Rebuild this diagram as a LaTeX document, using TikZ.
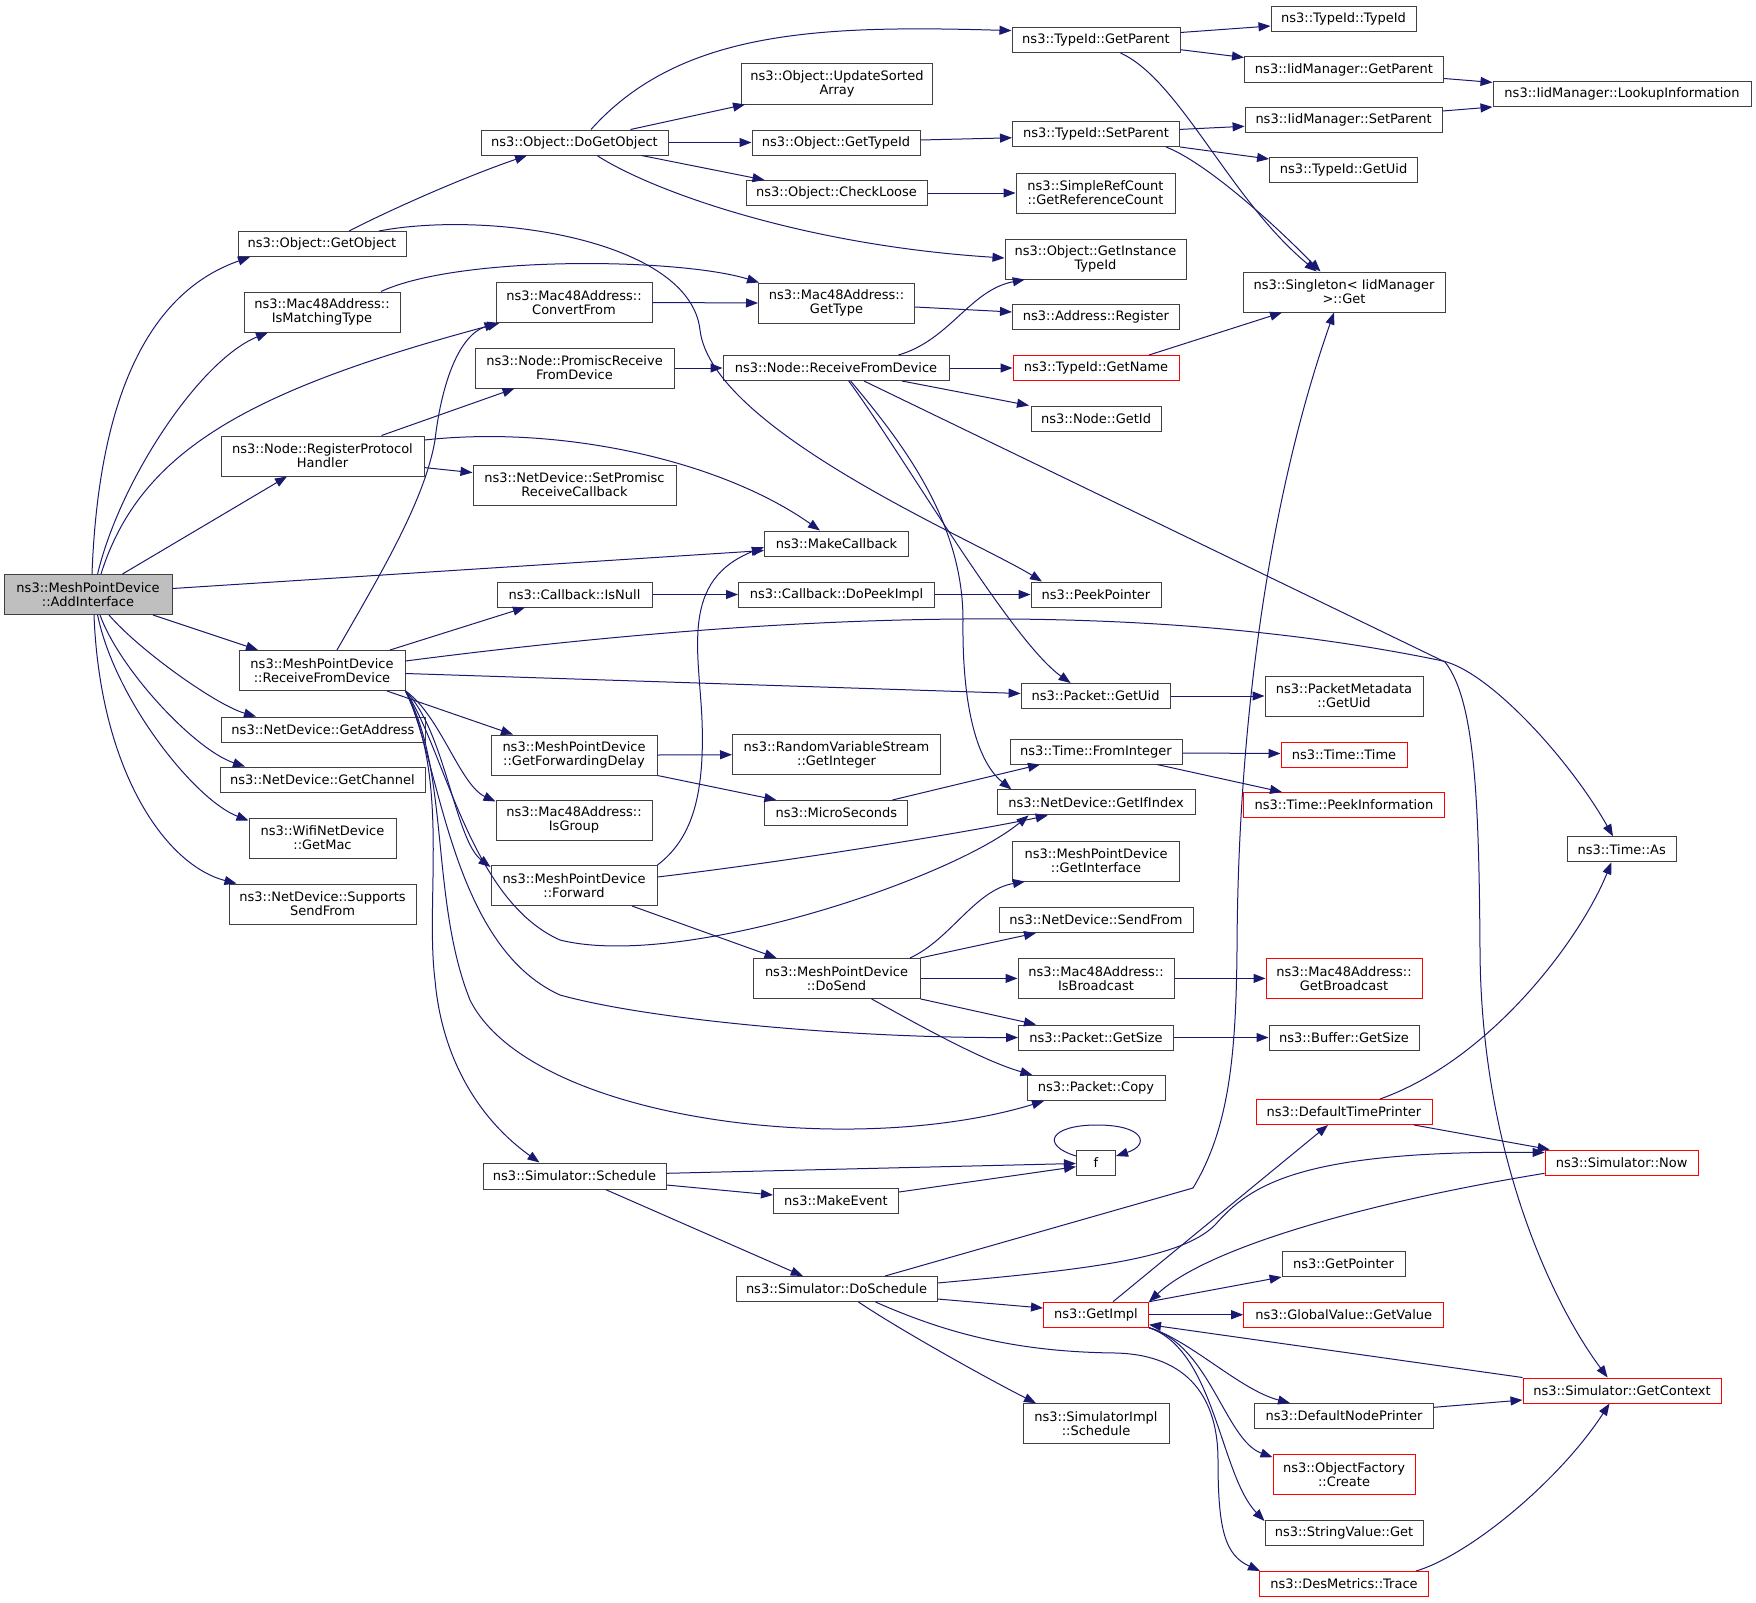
\documentclass[tikz,border=0pt]{standalone}
\usepackage{fontspec}
\setmainfont{DejaVu Sans}
\usetikzlibrary{arrows.meta}
\definecolor{edgeblue}{HTML}{191970}
\definecolor{boxgray}{HTML}{404040}
\definecolor{rootgray}{HTML}{BFBFBF}

\begin{document}
\begin{tikzpicture}[
    x=1pt, y=-1pt,
    >={Triangle[length=12pt,width=9pt]},
    fn/.style={
        rectangle,
        draw=boxgray,
        fill=white,
        line width=1pt,
        inner sep=0pt,
        minimum height=25pt,
        align=center,
        font=\fontsize{13}{14.2}\selectfont
    },
    fn2/.style={fn, minimum height=40pt},
    trunc/.style={draw=red},
    root/.style={fill=rootgray},
    call/.style={->, draw=edgeblue, line width=1pt}
]

\useasboundingbox (0,0) rectangle (1756,1603);

% --- ROOT ---
\node[fn2, root, minimum width=168pt] (addiface) at (88,594.5) {ns3::MeshPointDevice\\::AddInterface};

% --- COLUMN 1 ---
\node[fn, minimum width=168pt] (getobject) at (322,244) {ns3::Object::GetObject};
\node[fn2, minimum width=156pt] (ismatching) at (322,312) {ns3::Mac48Address::\\IsMatchingType};
\node[fn2, minimum width=203pt] (regproto) at (322.5,456) {ns3::Node::RegisterProtocol\\Handler};
\node[fn2, minimum width=166pt] (mrecv) at (322,670.5) {ns3::MeshPointDevice\\::ReceiveFromDevice};
\node[fn, minimum width=204pt] (getaddress) at (323,729.5) {ns3::NetDevice::GetAddress};
\node[fn, minimum width=205pt] (getchannel) at (322.5,779.5) {ns3::NetDevice::GetChannel};
\node[fn2, minimum width=147pt] (getmac) at (322.5,838) {ns3::WifiNetDevice\\::GetMac};
\node[fn2, minimum width=187pt] (supports) at (322.5,904) {ns3::NetDevice::Supports\\SendFrom};

% --- COLUMN 2 ---
\node[fn, minimum width=187pt] (dogetobj) at (574.5,142.5) {ns3::Object::DoGetObject};
\node[fn2, minimum width=156pt] (convfrom) at (574,302.5) {ns3::Mac48Address::\\ConvertFrom};
\node[fn2, minimum width=199pt] (promisc) at (574.5,368) {ns3::Node::PromiscReceive\\FromDevice};
\node[fn2, minimum width=203pt] (setpromisc) at (574.5,485) {ns3::NetDevice::SetPromisc\\ReceiveCallback};
\node[fn, minimum width=155pt] (isnull) at (574.5,594.5) {ns3::Callback::IsNull};
\node[fn2, minimum width=166pt] (fwddelay) at (574,755) {ns3::MeshPointDevice\\::GetForwardingDelay};
\node[fn2, minimum width=156pt] (isgroup) at (574,820) {ns3::Mac48Address::\\IsGroup};
\node[fn2, minimum width=166pt] (forward) at (574,885.5) {ns3::MeshPointDevice\\::Forward};
\node[fn, minimum width=183pt, minimum height=26pt] (schedule) at (574.5,1176) {ns3::Simulator::Schedule};

% --- COLUMN 3 ---
\node[fn2, minimum width=191pt] (sorted) at (837,84) {ns3::Object::UpdateSorted\\Array};
\node[fn, minimum width=168pt] (gettypeid) at (836,142.5) {ns3::Object::GetTypeId};
\node[fn, minimum width=181pt] (checkloose) at (836.5,193) {ns3::Object::CheckLoose};
\node[fn2, minimum width=156pt] (gettype) at (836.5,303) {ns3::Mac48Address::\\GetType};
\node[fn, minimum width=226pt] (nrecv) at (836,368) {ns3::Node::ReceiveFromDevice};
\node[fn, minimum width=144pt] (makecb) at (836.5,543.5) {ns3::MakeCallback};
\node[fn, minimum width=196pt] (dopeek) at (836.5,594.5) {ns3::Callback::DoPeekImpl};
\node[fn2, minimum width=208pt] (rvsint) at (836.5,754.7) {ns3::RandomVariableStream\\::GetInteger};
\node[fn, minimum width=143pt] (micro) at (836.4,813) {ns3::MicroSeconds};
\node[fn2, minimum width=167pt] (dosend) at (836.5,978.4) {ns3::MeshPointDevice\\::DoSend};
\node[fn, minimum width=125pt] (makeevent) at (836,1201) {ns3::MakeEvent};
\node[fn, minimum width=201pt] (doschedule) at (836.5,1289) {ns3::Simulator::DoSchedule};

% --- COLUMN 4 ---
\node[fn, minimum width=168pt] (tgetparent) at (1096,40) {ns3::TypeId::GetParent};
\node[fn, minimum width=167pt] (tsetparent) at (1096,134) {ns3::TypeId::SetParent};
\node[fn2, minimum width=159pt] (refcount) at (1095.5,193) {ns3::SimpleRefCount\\::GetReferenceCount};
\node[fn2, minimum width=181pt] (insttypeid) at (1095.5,259) {ns3::Object::GetInstance\\TypeId};
\node[fn, minimum width=167pt] (addrreg) at (1096,317) {ns3::Address::Register};
\node[fn, trunc, minimum width=166pt] (getname) at (1096,368) {ns3::TypeId::GetName};
\node[fn, minimum width=130pt] (getid) at (1096,418.5) {ns3::Node::GetId};
\node[fn, minimum width=130pt] (peekptr) at (1096,594.5) {ns3::PeekPointer};
\node[fn, minimum width=149pt] (pgetuid) at (1095.6,696) {ns3::Packet::GetUid};
\node[fn, minimum width=172pt] (frominteger) at (1096,751.5) {ns3::Time::FromInteger};
\node[fn, minimum width=198pt] (getifindex) at (1096,802.4) {ns3::NetDevice::GetIfIndex};
\node[fn2, minimum width=167pt] (getiface) at (1096,861) {ns3::MeshPointDevice\\::GetInterface};
\node[fn, minimum width=194pt] (sendfrom) at (1096,920) {ns3::NetDevice::SendFrom};
\node[fn2, minimum width=156pt] (isbcast) at (1096,978.4) {ns3::Mac48Address::\\IsBroadcast};
\node[fn, minimum width=155pt] (getsize) at (1096,1037.5) {ns3::Packet::GetSize};
\node[fn, minimum width=138pt] (copy) at (1096,1088) {ns3::Packet::Copy};
\node[fn, minimum width=39pt] (f) at (1096,1162.5) {f};
\node[fn, trunc, minimum width=105pt] (getimpl) at (1096,1314.7) {ns3::GetImpl};
\node[fn2, minimum width=146pt] (simimpl) at (1096,1423.7) {ns3::SimulatorImpl\\::Schedule};

% --- COLUMN 5 ---
\node[fn, minimum width=145pt] (typeid) at (1343.5,19) {ns3::TypeId::TypeId};
\node[fn, minimum width=199pt] (igetparent) at (1344,69.5) {ns3::IidManager::GetParent};
\node[fn, minimum width=197pt] (isetparent) at (1343.6,120) {ns3::IidManager::SetParent};
\node[fn, minimum width=148pt] (tgetuid) at (1343.6,170) {ns3::TypeId::GetUid};
\node[fn2, minimum width=202pt] (singleton) at (1344,292) {ns3::Singleton< IidManager\\>::Get};
\node[fn2, minimum width=158pt] (pmgetuid) at (1344,696) {ns3::PacketMetadata\\::GetUid};
\node[fn, trunc, minimum width=126pt] (timetime) at (1344,754.5) {ns3::Time::Time};
\node[fn, trunc, minimum width=201pt] (peekinfo) at (1344,805) {ns3::Time::PeekInformation};
\node[fn2, trunc, minimum width=156pt] (getbcast) at (1344,978.4) {ns3::Mac48Address::\\GetBroadcast};
\node[fn, minimum width=150pt] (bufsize) at (1344,1037.5) {ns3::Buffer::GetSize};
\node[fn, trunc, minimum width=176pt] (dtp) at (1344,1112) {ns3::DefaultTimePrinter};
\node[fn, minimum width=123pt] (getptr) at (1343.6,1264) {ns3::GetPointer};
\node[fn, trunc, minimum width=200pt] (getvalue) at (1343.7,1314.7) {ns3::GlobalValue::GetValue};
\node[fn, minimum width=179pt] (dnp) at (1344,1416) {ns3::DefaultNodePrinter};
\node[fn2, trunc, minimum width=142pt] (objfact) at (1344,1474.7) {ns3::ObjectFactory\\::Create};
\node[fn, minimum width=158pt] (strget) at (1344,1533) {ns3::StringValue::Get};
\node[fn, trunc, minimum width=169pt] (trace) at (1344,1584) {ns3::DesMetrics::Trace};

% --- COLUMN 6 ---
\node[fn, minimum width=258pt] (lookup) at (1622,94.4) {ns3::IidManager::LookupInformation};
\node[fn, minimum width=109pt] (timeas) at (1621.7,849.3) {ns3::Time::As};
\node[fn, trunc, minimum width=153pt] (now) at (1621.6,1162.5) {ns3::Simulator::Now};
\node[fn, trunc, minimum width=198pt] (getctx) at (1622,1390.5) {ns3::Simulator::GetContext};

% --- CALLS FROM AddInterface ---
\draw[call] ([xshift=4pt]addiface.north) .. controls (100,360) and (170,285) .. ([xshift=-72pt]getobject.south);
\draw[call] ([xshift=9.6pt]addiface.north) .. controls (120,480) and (200,360) .. ([xshift=-54pt]ismatching.south);
\draw[call] ([xshift=13pt]addiface.north) .. controls (140,450) and (250,390) .. ([xshift=4pt]convfrom.south west);
\draw[call] ([xshift=34.5pt]addiface.north) -- ([xshift=-35.5pt]regproto.south);
\draw[call] ([yshift=6pt]addiface.east) -- ([yshift=-7pt]makecb.west);
\draw[call] ([xshift=65pt]addiface.south) -- ([xshift=-64pt]mrecv.north);
\draw[call] ([xshift=21pt]addiface.south) .. controls (139,650) and (216,705) .. ([xshift=-67pt]getaddress.north);
\draw[call] ([xshift=12pt]addiface.south) .. controls (120,670) and (195,750) .. ([xshift=-77.5pt]getchannel.north);
\draw[call] ([xshift=9.6pt]addiface.south) .. controls (115,700) and (195,800) .. ([yshift=-3pt]getmac.north west);
\draw[call] ([xshift=6pt]addiface.south) .. controls (100,770) and (165,865) .. ([xshift=8pt]supports.north west);

% --- OBJECT ---
\draw[call] ([xshift=27pt]getobject.north) .. controls (400,205) and (470,175) .. ([xshift=-47.5pt]dogetobj.south);
\draw[call] ([xshift=57pt]getobject.north) .. controls (490,210) and (690,240) .. (700,330) .. controls (712,430) and (975,540) .. ([xshift=-54pt]peekptr.north);
\draw[call] ([xshift=59pt]ismatching.north) .. controls (460,255) and (680,258) .. ([xshift=1pt]gettype.north west);
\draw[call] ([xshift=16.5pt]dogetobj.north) .. controls (680,30) and (820,25) .. ([yshift=9.4pt]tgetparent.west);
\draw[call] ([xshift=56pt]dogetobj.north) -- ([xshift=4pt]sorted.south west);
\draw[call] (dogetobj.east) -- (gettypeid.west);
\draw[call] ([xshift=67pt]dogetobj.south) -- ([xshift=-72pt]checkloose.north);
\draw[call] ([xshift=22.5pt]dogetobj.south) .. controls (650,190) and (800,245) .. ([yshift=1pt]insttypeid.west);
\draw[call] (convfrom.east) -- (gettype.west);
\draw[call] ([yshift=-4pt]gettype.east) -- ([yshift=5pt]addrreg.west);

% --- NODE ---
\draw[call] (promisc.east) -- (nrecv.west);
\draw[call] ([xshift=59pt]regproto.north) -- ([xshift=-60pt]promisc.south);
\draw[call] ([yshift=-11.6pt]regproto.east) -- ([yshift=12.4pt]setpromisc.west);
\draw[call] ([yshift=16pt]regproto.east) .. controls (560,425) and (720,460) .. ([xshift=-16.5pt]makecb.north);
\draw[call] ([xshift=62.5pt]nrecv.north) .. controls (950,340) and (970,290) .. ([xshift=-70.7pt]insttypeid.south);
\draw[call] (nrecv.east) -- (getname.west);
\draw[call] ([xshift=66pt]nrecv.south) -- ([xshift=-67pt]getid.north);
\draw[call] ([xshift=12.7pt]nrecv.south) .. controls (900,450) and (1010,640) .. ([xshift=-25pt]pgetuid.north);
\draw[call] ([xshift=14.6pt]nrecv.south) .. controls (900,440) and (963,520) .. (963,620) .. controls (962,700) and (975,760) .. ([xshift=-84.6pt]getifindex.north);
\draw[call] ([xshift=28pt]nrecv.south) -- (1445,662) .. controls (1475,700) and (1479,800) .. (1480,950) .. controls (1481,1150) and (1550,1300) .. ([xshift=-14.4pt]getctx.north);

% --- MESH POINT DEVICE ---
\draw[call] ([yshift=9.5pt]mrecv.east) .. controls (800,610) and (1150,600) .. (1443,661) .. controls (1490,672) and (1570,760) .. ([xshift=-8.7pt]timeas.north);
\draw[call] ([xshift=15pt]mrecv.north) .. controls (380,575) and (425,500) .. (435,440) .. controls (442,380) and (460,335) .. ([xshift=1pt]convfrom.south west);
\draw[call] ([xshift=68pt]mrecv.north) -- ([xshift=-49.5pt]isnull.south);
\draw[call] ([yshift=-3pt]mrecv.east) -- ([yshift=2.5pt]pgetuid.west);
\draw[call] ([xshift=65pt]mrecv.south) -- ([xshift=-61pt]fwddelay.north);
\draw[call] (mrecv.south east) .. controls (440,715) and (460,785) .. ([yshift=-2pt]isgroup.north west);
\draw[call] (mrecv.south east) .. controls (445,730) and (455,840) .. ([yshift=-2pt]forward.north west);
\draw[call] (mrecv.south east) .. controls (445,750) and (470,900) .. (560,940) .. controls (680,970) and (950,880) .. ([xshift=-67.4pt]getifindex.south);
\draw[call] (mrecv.south east) .. controls (440,760) and (450,945) .. (560,995) .. controls (650,1020) and (850,1038) .. (getsize.west);
\draw[call] (mrecv.south east) .. controls (450,770) and (430,900) .. (470,1000) .. controls (530,1120) and (850,1160) .. ([xshift=-52pt]copy.south);
\draw[call] (mrecv.south east) .. controls (450,780) and (425,900) .. (435,980) .. controls (442,1060) and (480,1120) .. ([xshift=-35pt]schedule.north);
\draw[call] (forward.north east) .. controls (690,840) and (705,800) .. (702,720) .. controls (699,650) and (680,580) .. ([yshift=-3.5pt]makecb.west);
\draw[call] ([yshift=8.5pt]forward.east) .. controls (800,860) and (980,830) .. ([xshift=-48.3pt]getifindex.south);
\draw[call] ([xshift=58pt]forward.south) -- ([xshift=-60pt]dosend.north);
\draw[call] (fwddelay.east) -- (rvsint.west);
\draw[call] (fwddelay.south east) -- ([xshift=-60pt]micro.north);
\draw[call] ([xshift=56pt]micro.north) -- ([xshift=-56pt]frominteger.south);
\draw[call] ([yshift=-1.5pt]frominteger.east) -- ([yshift=1pt]timetime.west);
\draw[call] ([xshift=61pt]frominteger.south) -- ([xshift=-62pt]peekinfo.north);
\draw[call] (pgetuid.east) -- (pmgetuid.west);
\draw[call] ([xshift=73.5pt]dosend.north) .. controls (950,940) and (975,890) .. ([xshift=-71pt]getiface.south);
\draw[call] (dosend.north east) -- ([xshift=-60pt]sendfrom.south);
\draw[call] (dosend.east) -- (isbcast.west);
\draw[call] (dosend.south east) -- ([xshift=-60pt]getsize.north);
\draw[call] ([xshift=35pt]dosend.south) .. controls (910,1020) and (980,1060) .. ([xshift=-63.6pt]copy.north);
\draw[call] (isbcast.east) -- (getbcast.west);
\draw[call] (getsize.east) -- (bufsize.west);

% --- TYPEID ---
\draw[call] ([yshift=7.5pt]tgetparent.east) -- ([yshift=-7pt]typeid.west);
\draw[call] ([yshift=-9.7pt]tgetparent.east) -- ([yshift=12pt]igetparent.west);
\draw[call] ([xshift=24.5pt]tgetparent.south) .. controls (1180,80) and (1230,200) .. ([xshift=-27.3pt]singleton.north);
\draw[call] ([yshift=4.6pt]tsetparent.east) -- ([yshift=-6.3pt]isetparent.west);
\draw[call] (tsetparent.south east) -- ([yshift=11pt]tgetuid.west);
\draw[call] ([xshift=70pt]tsetparent.south) .. controls (1200,160) and (1260,210) .. ([xshift=-23.5pt]singleton.north);
\draw[call] ([yshift=2.5pt]gettypeid.east) -- ([yshift=-3.8pt]tsetparent.west);
\draw[call] (checkloose.east) -- (refcount.west);
\draw[call] ([yshift=-9pt]igetparent.east) -- ([yshift=12pt]lookup.west);
\draw[call] ([yshift=9pt]isetparent.east) -- ([yshift=-12.6pt]lookup.west);
\draw[call] ([xshift=53pt]getname.north) -- ([xshift=-62pt]singleton.south);

% --- CALLBACK ---
\draw[call] (isnull.east) -- (dopeek.west);
\draw[call] (dopeek.east) -- (peekptr.west);

% --- SIMULATOR ---
\draw[call] ([yshift=2.7pt]schedule.east) -- ([yshift=-1pt]f.west);
\draw[call] ([yshift=-9pt]schedule.east) -- ([yshift=6pt]makeevent.west);
\draw[call] ([xshift=31pt]schedule.south) -- ([xshift=-33.7pt]doschedule.north);
\draw[call] ([yshift=9pt]makeevent.east) -- ([yshift=-4.2pt]f.west);
\draw[call] ([yshift=6.5pt]f.west) .. controls (1040,1145) and (1050,1125) .. (1097,1125) .. controls (1145,1125) and (1150,1145) .. ([yshift=6.5pt]f.east);
\draw[call] ([xshift=48.6pt]doschedule.north) -- (1193,1188) .. controls (1228,1130) and (1236,1060) .. (1237,950) .. controls (1238,700) and (1275,480) .. ([xshift=-10pt]singleton.south);
\draw[call] ([yshift=6pt]doschedule.east) .. controls (1080,1270) and (1180,1260) .. (1215,1225) .. controls (1250,1185) and (1300,1150) .. ([yshift=10pt]now.west);
\draw[call] ([yshift=-10pt]doschedule.east) -- ([yshift=6.7pt]getimpl.west);
\draw[call] ([xshift=22pt]doschedule.south) .. controls (900,1330) and (990,1380) .. ([xshift=-60pt]simimpl.north);
\draw[call] ([xshift=39pt]doschedule.south) .. controls (950,1335) and (1020,1352) .. (1116,1353) .. controls (1190,1355) and (1218,1400) .. (1218,1460) .. controls (1218,1530) and (1225,1555) .. ([xshift=1pt]trace.north west);
\draw[call] ([xshift=17pt]getimpl.north) -- ([xshift=-16pt]dtp.south);
\draw[call] (getimpl.north east) -- (getptr.south west);
\draw[call] (getimpl.east) -- (getvalue.west);
\draw[call] (getimpl.south east) .. controls (1190,1340) and (1240,1390) .. ([xshift=-54pt]dnp.north);
\draw[call] (getimpl.south east) .. controls (1210,1345) and (1225,1440) .. ([yshift=-3pt]objfact.north west);
\draw[call] (getimpl.south east) .. controls (1215,1350) and (1220,1475) .. ([yshift=-1pt]strget.north west);
\draw[call] ([yshift=-10.8pt]now.west) .. controls (1380,1200) and (1210,1245) .. (getimpl.north east);
\draw[call] (getctx.north west) -- ([yshift=-10pt]getimpl.east);
\draw[call] ([yshift=8.7pt]dnp.east) -- ([yshift=-9.5pt]getctx.west);
\draw[call] ([xshift=70pt]dtp.south) -- ([xshift=5pt]now.north west);
\draw[call] ([xshift=36pt]dtp.north) .. controls (1490,1060) and (1580,940) .. ([xshift=-10.3pt]timeas.south);
\draw[call] ([xshift=72pt]trace.north) .. controls (1470,1555) and (1560,1480) .. ([xshift=-12.5pt]getctx.south);

\end{tikzpicture}
\end{document}
